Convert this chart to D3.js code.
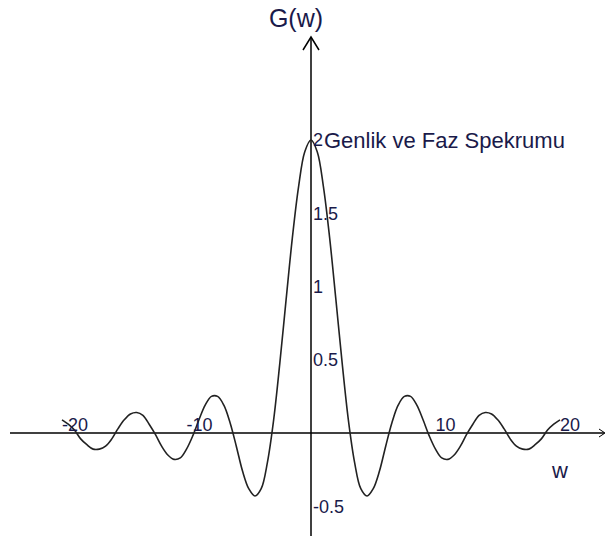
<!DOCTYPE html>
<html>
<head>
<meta charset="utf-8">
<script src="https://cdn.jsdelivr.net/npm/d3@7"></script>
<style>
  html, body { margin: 0; padding: 0; background: #fff; }
  svg { display: block; }
  text { font-family: "Liberation Sans", Arial, sans-serif; fill: #1a1a4a; }
</style>
</head>
<body>
<svg id="chart" width="607" height="537"></svg>
<script>
// Data
const wValues = [-20,-19.5,-19,-18.5,-18,-17.5,-17,-16.5,-16,-15.5,-15,-14.5,-14,-13.5,-13,-12.5,-12,-11.5,-11,-10.5,-10,-9.5,-9,-8.5,-8,-7.5,-7,-6.5,-6,-5.5,-5,-4.5,-4,-3.5,-3,-2.5,-2,-1.5,-1,-0.5,0,0.5,1,1.5,2,2.5,3,3.5,4,4.5,5,5.5,6,6.5,7,7.5,8,8.5,9,9.5,10,10.5,11,11.5,12,12.5,13,13.5,14,14.5,15,15.5,16,16.5,17,17.5,18,18.5,19,19.5,20];
const gValues = [0.09,0.06,0.02,-0.04,-0.08,-0.11,-0.11,-0.09,-0.04,0.03,0.09,0.13,0.14,0.12,0.06,-0.01,-0.09,-0.15,-0.18,-0.17,-0.11,-0.02,0.09,0.19,0.25,0.25,0.19,0.07,-0.09,-0.26,-0.38,-0.43,-0.38,-0.20,0.09,0.48,0.91,1.33,1.68,1.92,2.00,1.92,1.68,1.33,0.91,0.48,0.09,-0.20,-0.38,-0.43,-0.38,-0.26,-0.09,0.07,0.19,0.25,0.25,0.19,0.09,-0.02,-0.11,-0.17,-0.18,-0.15,-0.09,-0.01,0.06,0.12,0.14,0.13,0.09,0.03,-0.04,-0.09,-0.11,-0.11,-0.08,-0.04,0.02,0.06,0.09];
const xTicks = [-20, -10, 10, 20];
const xTickLabels = ["-20", "-10", "10", "20"];
const yTicks = [2, 1.5, 1, 0.5, -0.5];
const yTickLabels = ["2", "1.5", "1", "0.5", "-0.5"];
const titleText = "Genlik ve Faz Spekrumu";
const yAxisTitle = "G(w)";
const xAxisTitle = "w";

const svg = d3.select("#chart");
const x = d3.scaleLinear().domain([-20, 20]).range([62, 560]);
const y = d3.scaleLinear().domain([-0.5, 2]).range([506.25, 140]);

const x0 = x(0), y0 = y(0);

// axes lines
svg.append("line").attr("x1", 10).attr("x2", 604).attr("y1", y0).attr("y2", y0)
  .attr("stroke", "#000").attr("stroke-width", 1.5);
svg.append("line").attr("x1", x0).attr("x2", x0).attr("y1", 536).attr("y2", 37)
  .attr("stroke", "#000").attr("stroke-width", 1.5);
// arrows
svg.append("path").attr("d", `M${x0-8},${50} L${x0},${37} L${x0+8},${50}`)
  .attr("fill", "none").attr("stroke", "#000").attr("stroke-width", 1.5);
svg.append("path").attr("d", `M${599},${y0-4} L${605},${y0} L${599},${y0+4}`)
  .attr("fill", "none").attr("stroke", "#000").attr("stroke-width", 1);

// curve
const pts = wValues.map((w, i) => [w, gValues[i]]);
const line = d3.line().x(d => x(d[0])).y(d => y(d[1])).curve(d3.curveCatmullRom);
svg.append("path").datum(pts).attr("d", line)
  .attr("fill", "none").attr("stroke", "#222").attr("stroke-width", 1.6);

// x tick labels
svg.selectAll(".xt").data(xTicks).enter().append("text")
  .attr("x", d => x(d)).attr("y", y0 - 2)
  .attr("font-size", 18)
  .text((d, i) => xTickLabels[i]);

// y tick labels
svg.selectAll(".yt").data(yTicks).enter().append("text")
  .attr("x", x0 + 2).attr("y", d => y(d)).attr("dy", "0.36em")
  .attr("font-size", 18)
  .text((d, i) => yTickLabels[i]);

// title
svg.append("text").attr("x", 324).attr("y", y(2)).attr("dy", "0.36em")
  .attr("font-size", 22).text(titleText);

svg.append("text").attr("x", 296).attr("y", 27).attr("text-anchor", "middle")
  .attr("font-size", 25).text(yAxisTitle);
svg.append("text").attr("x", 560).attr("y", 478).attr("text-anchor", "middle")
  .attr("font-size", 22).text(xAxisTitle);
</script>
</body>
</html>
